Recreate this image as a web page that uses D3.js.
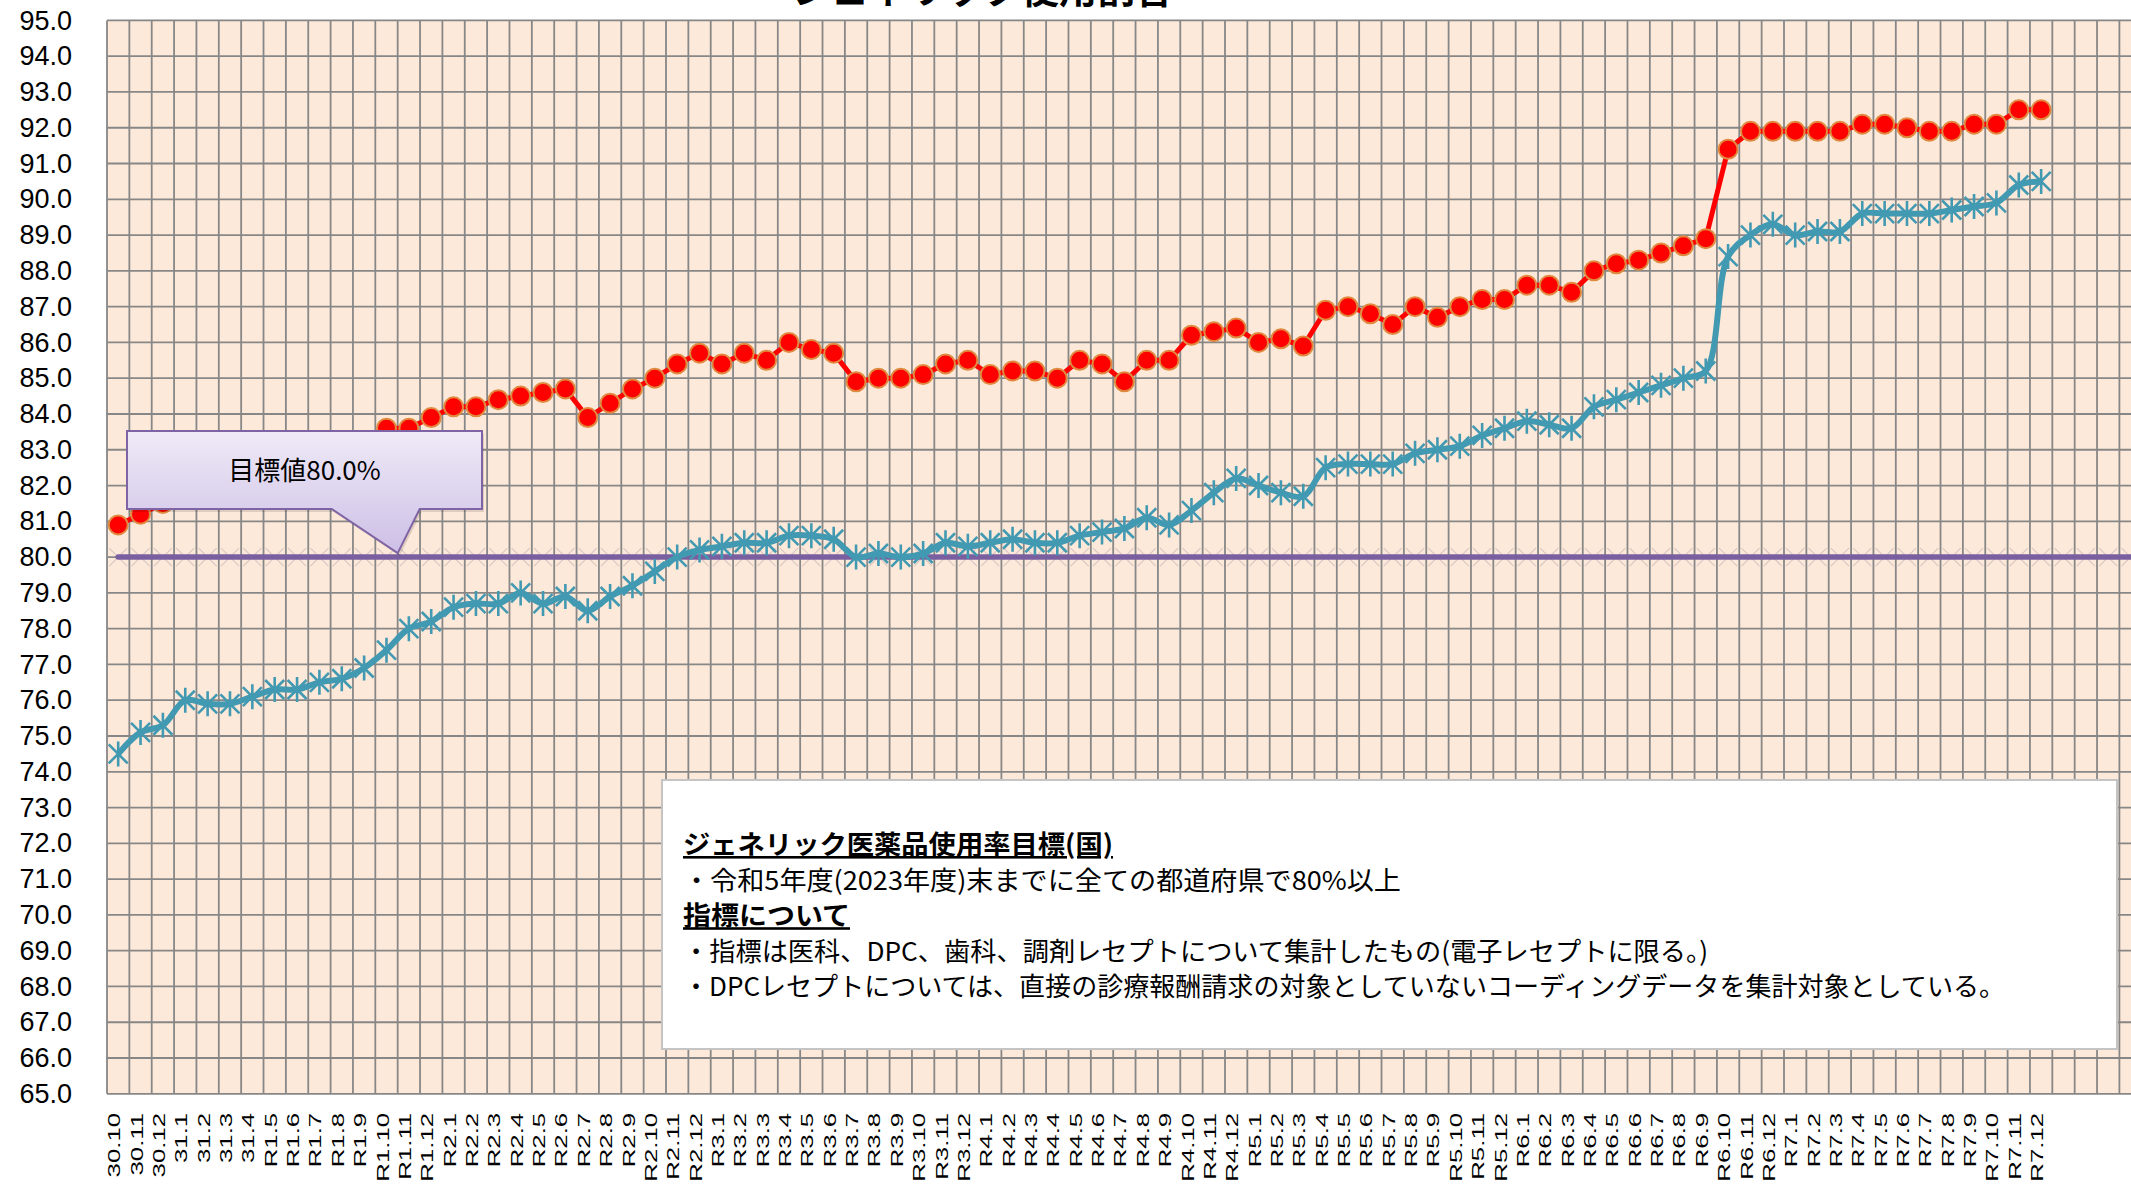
<!DOCTYPE html>
<html>
<head>
<meta charset="utf-8">
<script src="https://cdn.jsdelivr.net/npm/d3@7"></script>
<style>
  body { margin: 0; background: #fff; }
  svg { display: block; }
</style>
</head>
<body>
<svg id="grafico" width="2131" height="1184"></svg>
<script>
// --- datos ---
const categorias = [
  "30.10", "30.11", "30.12", "31.1", "31.2", "31.3", "31.4",
  "R1.5", "R1.6", "R1.7", "R1.8", "R1.9", "R1.10", "R1.11", "R1.12",
  "R2.1", "R2.2", "R2.3", "R2.4", "R2.5", "R2.6", "R2.7", "R2.8", "R2.9", "R2.10", "R2.11", "R2.12",
  "R3.1", "R3.2", "R3.3", "R3.4", "R3.5", "R3.6", "R3.7", "R3.8", "R3.9", "R3.10", "R3.11", "R3.12",
  "R4.1", "R4.2", "R4.3", "R4.4", "R4.5", "R4.6", "R4.7", "R4.8", "R4.9", "R4.10", "R4.11", "R4.12",
  "R5.1", "R5.2", "R5.3", "R5.4", "R5.5", "R5.6", "R5.7", "R5.8", "R5.9", "R5.10", "R5.11", "R5.12",
  "R6.1", "R6.2", "R6.3", "R6.4", "R6.5", "R6.6", "R6.7", "R6.8", "R6.9", "R6.10", "R6.11", "R6.12",
  "R7.1", "R7.2", "R7.3", "R7.4", "R7.5", "R7.6", "R7.7", "R7.8", "R7.9", "R7.10", "R7.11", "R7.12"
];
const huecosVacios = 5; // categorias sin dato a la derecha

const serieRoja = [
  80.9, 81.2, 81.5, 81.7, 81.9, 82.1, 82.3, 82.4, 82.6, 82.8, 82.9, 83.1,
  83.6, 83.6, 83.9, 84.2, 84.2, 84.4,
  84.5, 84.6, 84.7, 83.9, 84.3, 84.7, 85.0, 85.4, 85.7,
  85.4, 85.7, 85.5, 86.0, 85.8, 85.7, 84.9, 85.0, 85.0, 85.1, 85.4, 85.5,
  85.1, 85.2, 85.2, 85.0, 85.5, 85.4, 84.9, 85.5, 85.5, 86.2, 86.3, 86.4,
  86.0, 86.1, 85.9, 86.9, 87.0, 86.8, 86.5, 87.0, 86.7, 87.0, 87.2, 87.2,
  87.6, 87.6, 87.4, 88.0, 88.2, 88.3, 88.5, 88.7, 88.9, 91.4, 91.9, 91.9,
  91.9, 91.9, 91.9, 92.1, 92.1, 92.0, 91.9, 91.9, 92.1, 92.1, 92.5, 92.5
];

const serieAzul = [
  74.5, 75.1, 75.3, 76.0, 75.9, 75.9, 76.1, 76.3, 76.3, 76.5, 76.6, 76.9, 77.4, 78.0, 78.2,
  78.6, 78.7, 78.7, 79.0, 78.7, 78.9, 78.5, 78.9, 79.2, 79.6, 80.0, 80.2,
  80.3, 80.4, 80.4, 80.6, 80.6, 80.5, 80.0, 80.1, 80.0, 80.1, 80.4, 80.3,
  80.4, 80.5, 80.4, 80.4, 80.6, 80.7, 80.8, 81.1, 80.9, 81.3, 81.8, 82.2,
  82.0, 81.8, 81.7, 82.5, 82.6, 82.6, 82.6, 82.9, 83.0, 83.1, 83.4, 83.6,
  83.8, 83.7, 83.6, 84.2, 84.4, 84.6, 84.8, 85.0, 85.2, 88.4, 89.0, 89.3,
  89.0, 89.1, 89.1, 89.6, 89.6, 89.6, 89.6, 89.7, 89.8, 89.9, 90.4, 90.5
];

const valorObjetivo = 80.0;
const rangoY = [65, 95];
const titulo = "ジェネリック使用割合";
const textoGlobo = "目標値80.0%";
const notas = [
  { texto: "ジェネリック医薬品使用率目標(国)", negrita: true, ancho: 430 },
  { texto: "・令和5年度(2023年度)末までに全ての都道府県で80%以上", negrita: false, ancho: 718 },
  { texto: "指標について", negrita: true, ancho: 167 },
  { texto: "・指標は医科、DPC、歯科、調剤レセプトについて集計したもの(電子レセプトに限る。)", negrita: false, ancho: 1025 },
  { texto: "・DPCレセプトについては、直接の診療報酬請求の対象としていないコーディングデータを集計対象としている。", negrita: false, ancho: 1322 }
];

// --- escalas ---
const svg = d3.select("#grafico");
const izquierda = 107, arriba = 20.4, abajo = 1093.8, paso = 22.36;
const totalCategorias = categorias.length + huecosVacios;

const x = d3.scaleBand()
  .domain(d3.range(totalCategorias))
  .range([izquierda, izquierda + totalCategorias * paso])
  .paddingInner(0).paddingOuter(0);
const centro = i => x(i) + x.bandwidth() / 2;
const derecha = izquierda + totalCategorias * paso;

const y = d3.scaleLinear().domain(rangoY).range([abajo, arriba]);
const marcasY = d3.range(rangoY[0], rangoY[1] + 1, 1);

// fondo del area de trazado
svg.append("rect")
  .attr("x", izquierda).attr("y", arriba)
  .attr("width", derecha - izquierda).attr("height", abajo - arriba)
  .attr("fill", "#fde9d9");

// lineas de cuadricula
const cuadricula = svg.append("g").attr("stroke", "#878787").attr("stroke-width", 1.8);
cuadricula.selectAll(".h")
  .data(marcasY)
  .enter().append("line")
  .attr("x1", izquierda).attr("x2", derecha)
  .attr("y1", d => y(d)).attr("y2", d => y(d));
cuadricula.selectAll(".v")
  .data(d3.range(totalCategorias + 1))
  .enter().append("line")
  .attr("x1", i => izquierda + i * x.bandwidth()).attr("x2", i => izquierda + i * x.bandwidth())
  .attr("y1", arriba).attr("y2", abajo);

// eje Y
const ejeY = svg.append("g")
  .attr("transform", `translate(${izquierda},0)`)
  .call(d3.axisLeft(y).tickValues(marcasY).tickFormat(d3.format(".1f")).tickSize(0).tickPadding(35));
ejeY.select(".domain").remove();
ejeY.selectAll("text")
  .attr("font-family", "'Liberation Sans', Arial, sans-serif")
  .attr("font-size", 27)
  .attr("fill", "#000");

// eje X
const ejeX = svg.append("g")
  .attr("transform", `translate(0,${abajo})`)
  .call(d3.axisBottom(x).tickFormat(i => categorias[i] || "").tickSize(0));
ejeX.select(".domain").remove();
ejeX.selectAll(".tick text")
  .attr("font-family", "'Liberation Sans', Arial, sans-serif")
  .attr("font-size", 17)
  .attr("fill", "#000")
  .attr("text-anchor", "end")
  .attr("x", 0).attr("y", 0).attr("dy", "0.12em")
  .attr("transform", "translate(0,19) rotate(-90) scale(1.52,1)");

// linea objetivo
const lineaObjetivo = svg.append("g");
lineaObjetivo.selectAll(".cruz")
  .data(d3.range(totalCategorias))
  .enter().append("path")
  .attr("d", "M-9,-9L9,9M-9,9L9,-9")
  .attr("transform", i => `translate(${centro(i)},${y(valorObjetivo)})`)
  .attr("stroke", "#d8c6c4").attr("stroke-width", 1.2).attr("fill", "none");
lineaObjetivo.append("line")
  .attr("x1", centro(0)).attr("x2", derecha)
  .attr("y1", y(valorObjetivo)).attr("y2", y(valorObjetivo))
  .attr("stroke", "#7a5fa0").attr("stroke-width", 5.5).attr("stroke-linecap", "round");

// serie azul
const lineaAzul = d3.line()
  .x((d, i) => centro(i)).y(d => y(d))
  .curve(d3.curveCatmullRom.alpha(0.5));
svg.append("path")
  .datum(serieAzul)
  .attr("d", lineaAzul)
  .attr("fill", "none").attr("stroke", "#4299b2").attr("stroke-width", 6)
  .attr("stroke-linejoin", "round");
svg.append("g").selectAll("path")
  .data(serieAzul)
  .enter().append("path")
  .attr("d", "M-9.5,-9.5L9.5,9.5M-9.5,9.5L9.5,-9.5M0,-12.5L0,12.5")
  .attr("transform", (d, i) => `translate(${centro(i)},${y(d)})`)
  .attr("stroke", "#4299b2").attr("stroke-width", 2.6).attr("fill", "none");

// serie roja
const lineaRoja = d3.line().x((d, i) => centro(i)).y(d => y(d));
svg.append("path")
  .datum(serieRoja)
  .attr("d", lineaRoja)
  .attr("fill", "none").attr("stroke", "#ff0000").attr("stroke-width", 5)
  .attr("stroke-linejoin", "round");
svg.append("g").selectAll("circle")
  .data(serieRoja)
  .enter().append("circle")
  .attr("cx", (d, i) => centro(i)).attr("cy", d => y(d))
  .attr("r", 9.5)
  .attr("fill", "#ff0000").attr("stroke", "#e08a40").attr("stroke-width", 2);

// titulo (cortado arriba)
svg.append("text")
  .attr("x", 983).attr("y", 3)
  .attr("text-anchor", "middle")
  .attr("font-family", "'Noto Sans CJK JP', sans-serif")
  .attr("font-weight", "bold").attr("font-size", 38)
  .text(titulo);

// globo del objetivo
const defs = svg.append("defs");
const grad = defs.append("linearGradient").attr("id", "degradado").attr("x1", 0).attr("y1", 0).attr("x2", 0).attr("y2", 1);
grad.append("stop").attr("offset", "0%").attr("stop-color", "#efeaf7");
grad.append("stop").attr("offset", "100%").attr("stop-color", "#cdbfe6");

const puntaX = x(13), puntaY = y(valorObjetivo) - 4;
const globo = { x0: 127, x1: 482, y0: 431, y1: 509 };
const formaGlobo = d3.path();
formaGlobo.moveTo(globo.x0, globo.y0);
formaGlobo.lineTo(globo.x1, globo.y0);
formaGlobo.lineTo(globo.x1, globo.y1);
formaGlobo.lineTo(puntaX + 22, globo.y1);
formaGlobo.lineTo(puntaX, puntaY);
formaGlobo.lineTo(puntaX - 66, globo.y1);
formaGlobo.lineTo(globo.x0, globo.y1);
formaGlobo.closePath();
svg.append("path")
  .attr("d", formaGlobo.toString())
  .attr("transform", "translate(2,3)")
  .attr("fill", "#000").attr("opacity", 0.12);
svg.append("path")
  .attr("d", formaGlobo.toString())
  .attr("fill", "url(#degradado)")
  .attr("stroke", "#7f64a5").attr("stroke-width", 2);
svg.append("text")
  .attr("x", (globo.x0 + globo.x1) / 2).attr("y", 480)
  .attr("text-anchor", "middle")
  .attr("font-family", "'Noto Sans CJK JP', sans-serif")
  .attr("font-size", 26).attr("fill", "#000")
  .text(textoGlobo);

// cuadro de notas
svg.append("rect")
  .attr("x", 662).attr("y", 780).attr("width", 1455).attr("height", 269)
  .attr("fill", "#fff").attr("stroke", "#c4c4c4").attr("stroke-width", 2);
svg.append("g").selectAll("text")
  .data(notas)
  .enter().append("text")
  .attr("x", 683)
  .attr("y", (d, i) => 854 + i * 35.6)
  .attr("font-family", "'Noto Sans CJK JP', sans-serif")
  .attr("font-size", 26)
  .attr("font-weight", d => d.negrita ? "bold" : "normal")
  .attr("text-decoration", d => d.negrita ? "underline" : "none")
  .attr("textLength", d => d.ancho)
  .attr("lengthAdjust", "spacingAndGlyphs")
  .attr("fill", "#000")
  .text(d => d.texto);
</script>
</body>
</html>
